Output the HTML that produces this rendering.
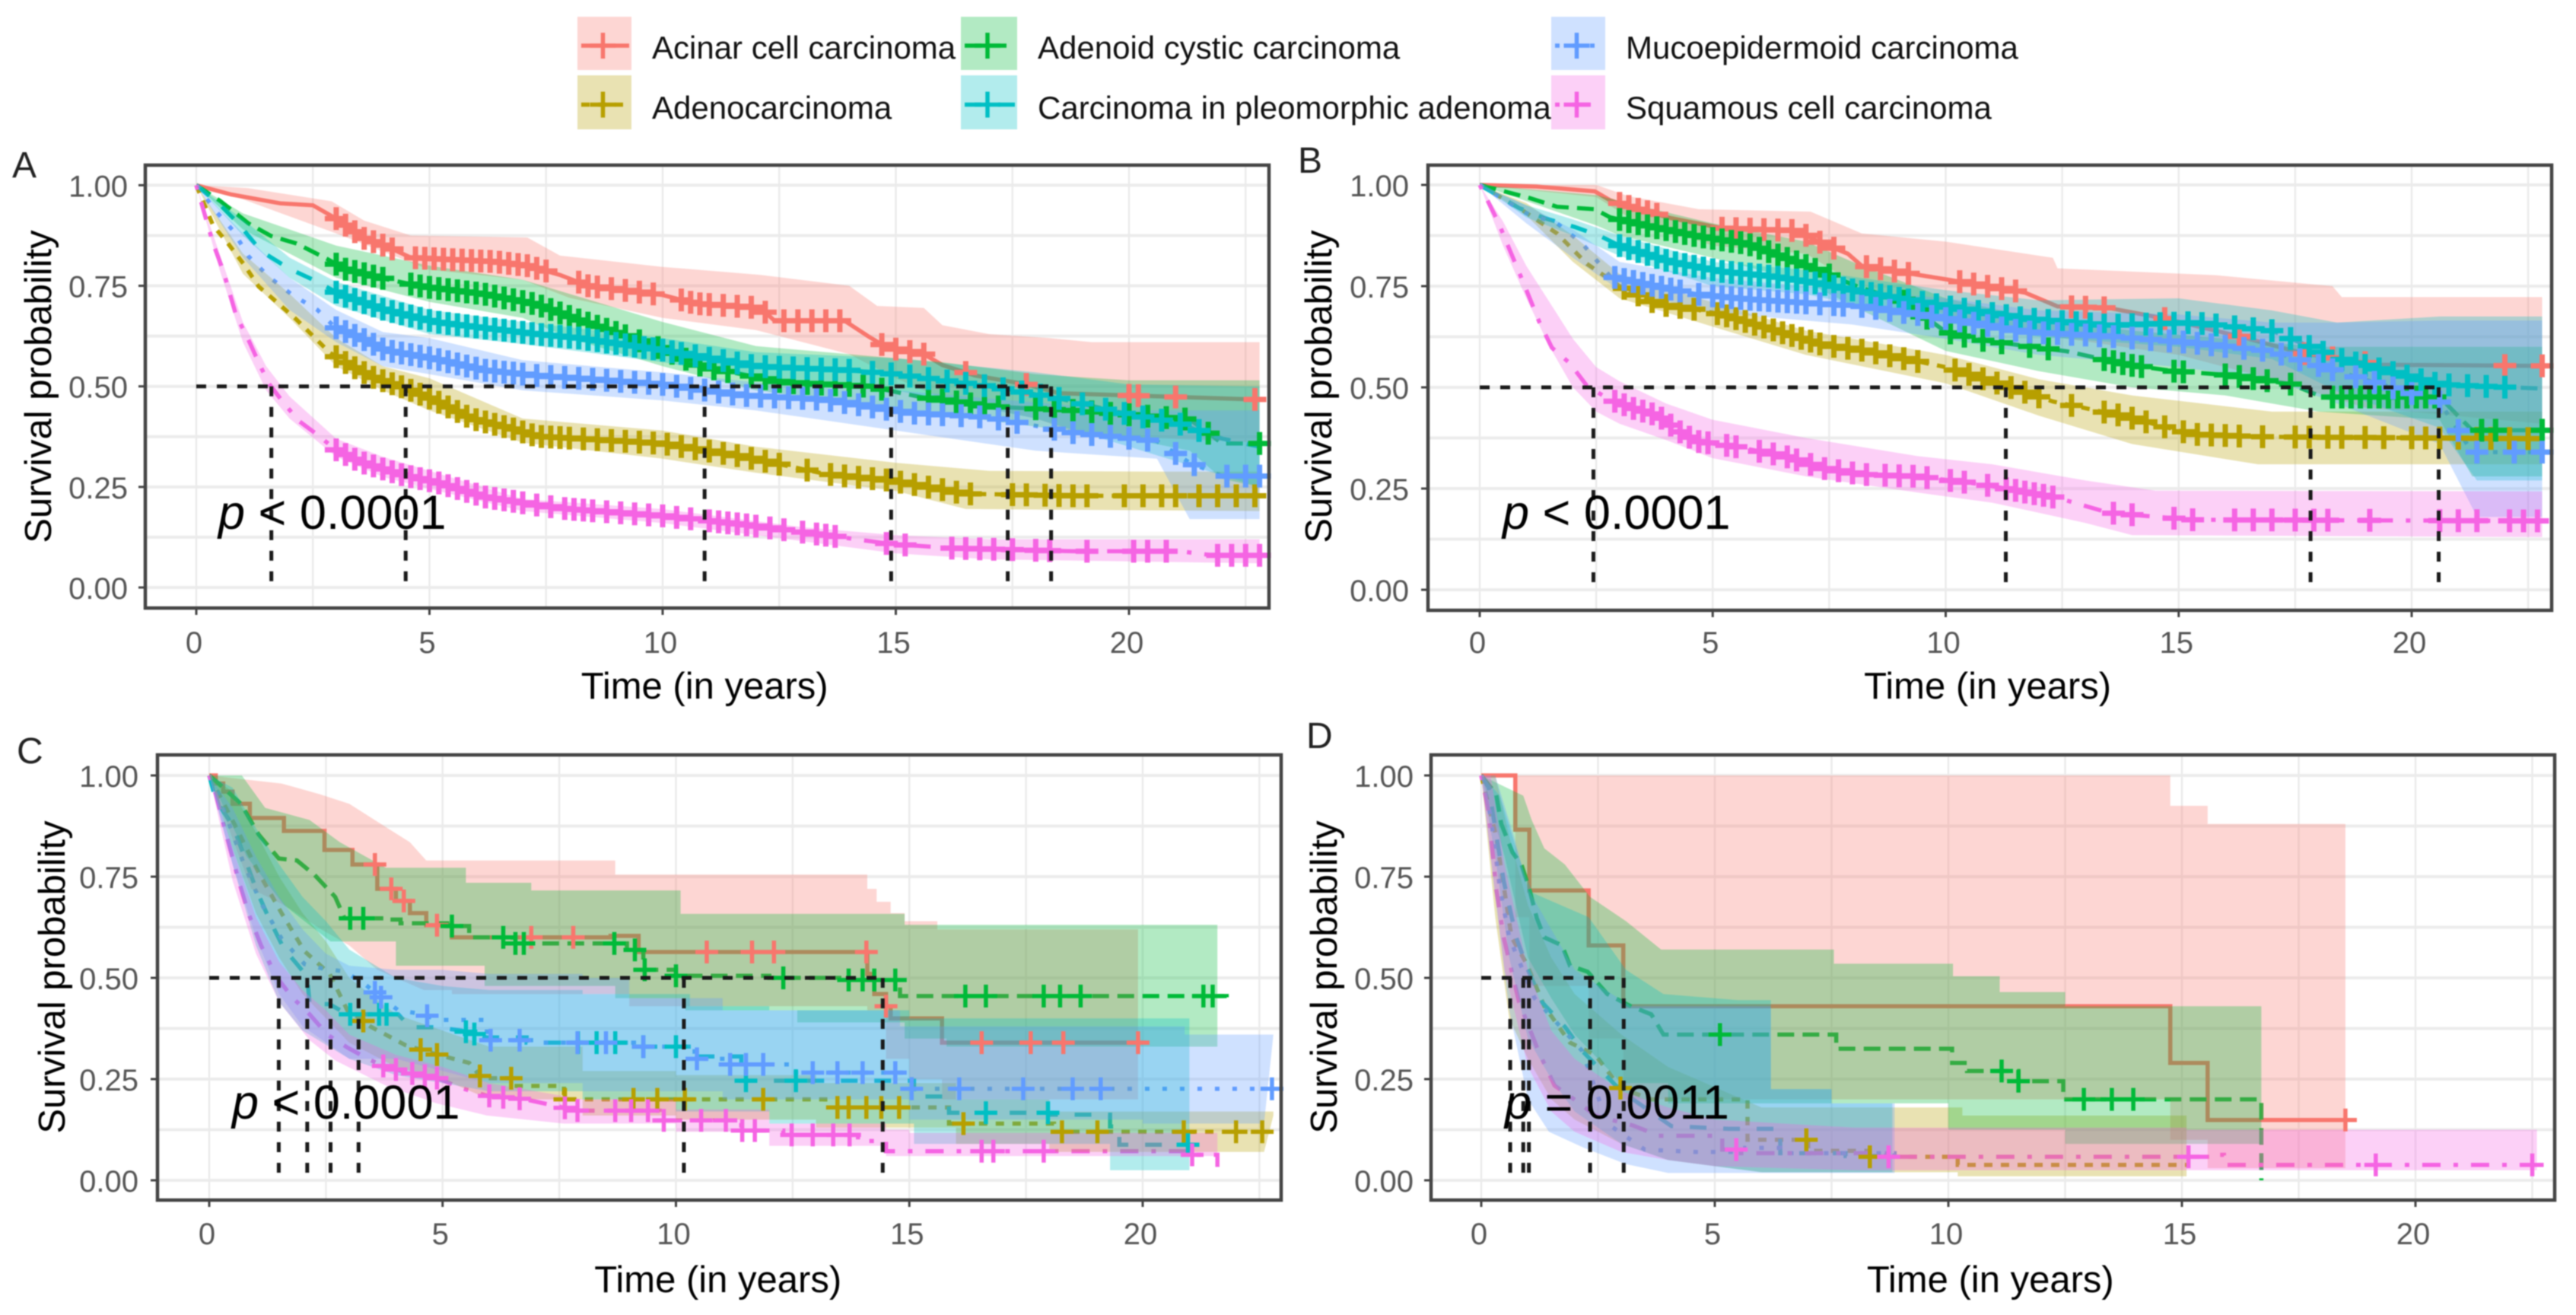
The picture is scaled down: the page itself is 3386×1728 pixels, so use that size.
<!DOCTYPE html>
<html lang="en">
<head>
<meta charset="utf-8">
<title>Kaplan-Meier survival curves by histology</title>
<style>
html,body{margin:0;padding:0;background:#fff;width:3386px;height:1728px;overflow:hidden}
svg{display:block;filter:blur(0.9px)}
text{font-family:"Liberation Sans",sans-serif}
</style>
</head>
<body>
<svg id="chart" xmlns="http://www.w3.org/2000/svg" width="3386" height="1728" viewBox="0 0 3386 1728">
<rect width="3386" height="1728" fill="#fff"/>
</svg>
<script>
const seriesNames=["Acinar cell carcinoma","Adenocarcinoma","Adenoid cystic carcinoma","Carcinoma in pleomorphic adenoma","Mucoepidermoid carcinoma","Squamous cell carcinoma"];
const xTicks=[0,5,10,15,20];
const xGrid=[0,2.5,5,7.5,10,12.5,15,17.5,20,22.5];
const yTicks=[0,0.25,0.5,0.75,1];
const yTickLabels=["0.00","0.25","0.50","0.75","1.00"];
const yGrid=[0,0.125,0.25,0.375,0.5,0.625,0.75,0.875,1];
const pValues=["< 0.0001","< 0.0001","< 0.0001","= 0.0011"];
const A_medians=[1.61,4.49,10.9,14.9,17.4,18.33];
const B_medians=[2.44,11.29,17.83,20.58];
const C_medians=[1.49,2.1,2.6,3.2,10.17,14.43];
const D_medians=[0.62,0.9,1.02,2.33,3.05];

/* Panel A */
const A_acinar_t=[0,0.75,1.8,2.5,3,3.6,4.1,4.6,6.4,7.1,7.8,8.4,10,10.7,12.1,12.4,13.9,14.4,14.8,15.6,16,16.7,17.8,18.5,22.8];
const A_acinar_s=[1,0.977,0.955,0.95,0.917,0.868,0.847,0.82,0.81,0.8,0.777,0.75,0.727,0.706,0.695,0.663,0.663,0.625,0.597,0.58,0.553,0.527,0.505,0.483,0.467];
const A_acinar_ut=[0,1.1,2.9,3.6,4.6,7.1,7.8,10,12.1,14,14.6,15.6,16,17,18.3,19.2,22.8];
const A_acinar_u=[1,0.993,0.96,0.912,0.875,0.87,0.825,0.797,0.777,0.75,0.7,0.695,0.652,0.63,0.62,0.61,0.61];
const A_acinar_lt=[0,1,3,5,7,8,10,12,14,15,16,18,19,22.8];
const A_acinar_l=[1,0.965,0.88,0.79,0.765,0.72,0.67,0.64,0.58,0.52,0.47,0.42,0.38,0.36];
const A_acinar_c=[3,3.2,3.4,3.6,3.8,4,4.2,4.7,4.9,5.1,5.3,5.5,5.7,5.9,6.1,6.3,6.5,6.7,6.9,7.1,7.3,7.5,8.2,8.4,8.6,8.9,9.2,9.5,9.8,10.4,10.6,10.8,11,11.3,11.6,11.9,12.2,12.6,12.9,13.2,13.5,13.8,14.7,15,15.3,15.6,16.5,17.8,20,20.2,21,22.7];
const A_adeno_t=[0,0.36,0.68,1.01,1.34,1.72,2.15,2.53,2.86,3.3,3.84,4.5,5.14,5.9,6.77,7.3,8.2,10,11.7,13.5,14.9,16.5,18.8,22.8];
const A_adeno_s=[1,0.9,0.855,0.805,0.748,0.71,0.666,0.622,0.584,0.552,0.52,0.495,0.464,0.42,0.395,0.376,0.37,0.358,0.326,0.282,0.266,0.233,0.228,0.228];
const A_adeno_ut=[0,1,2,3,4,5,7,10,12,15,17,20.6,22.8];
const A_adeno_u=[1,0.83,0.73,0.62,0.55,0.52,0.42,0.39,0.35,0.31,0.29,0.288,0.288];
const A_adeno_lt=[0,1,2,3,4,5,7,10,12,15,16.5,22.8];
const A_adeno_l=[1,0.78,0.67,0.55,0.49,0.44,0.36,0.32,0.285,0.24,0.195,0.19];
const A_adeno_c=[3,3.2,3.4,3.6,3.8,4,4.2,4.4,4.6,4.8,5,5.2,5.4,5.6,5.8,6,6.2,6.4,6.6,6.8,7,7.2,7.4,7.6,7.8,8,8.3,8.6,8.9,9.2,9.5,9.8,10.1,10.4,10.7,11,11.3,11.6,11.9,12.2,12.5,13.1,13.6,13.9,14.2,14.5,14.8,15.1,15.4,15.7,16,16.3,16.6,17.5,17.8,18.2,18.5,18.8,19.1,19.9,20.3,20.7,21,21.5,21.9,22.3,22.7];
const A_adenoid_t=[0,0.52,1.12,1.6,2.15,2.8,3.18,4.05,4.87,6.2,7.3,8.2,9.1,10,10.9,12.6,14.4,15.6,17,18.8,21.3,22,22.8];
const A_adenoid_s=[1,0.96,0.905,0.874,0.855,0.817,0.792,0.767,0.748,0.729,0.704,0.665,0.63,0.592,0.548,0.51,0.5,0.472,0.45,0.44,0.418,0.358,0.358];
const A_adenoid_ut=[0,1,2,3,5,7,8,10,12,14,16,18,20,22.8];
const A_adenoid_u=[1,0.93,0.89,0.85,0.8,0.765,0.73,0.66,0.6,0.58,0.56,0.53,0.515,0.515];
const A_adenoid_lt=[0,1,2,3,5,7,8,10,12,14,16,18,20,21.3,22,22.8];
const A_adenoid_l=[1,0.89,0.83,0.77,0.71,0.67,0.62,0.55,0.49,0.46,0.43,0.4,0.37,0.34,0.27,0.25];
const A_adenoid_c=[3,3.2,3.4,3.6,3.8,4,4.6,4.8,5,5.2,5.4,5.6,5.8,6,6.2,6.4,6.6,6.8,7,7.2,7.4,7.6,7.8,8,8.2,8.4,8.6,8.8,9,9.2,9.5,9.9,10.2,10.5,10.8,11.1,11.4,11.9,12.2,12.5,12.8,13.1,13.4,13.7,14,14.3,14.7,15.7,16,16.3,16.6,16.9,17.2,18,18.4,18.8,19.2,19.6,20,20.4,20.8,21.2,21.7,22.8];
const A_cpa_t=[0,0.52,0.9,1.39,2,2.6,3.08,4.05,5.14,6.2,7.3,8.2,10,12,14,15,17,18.5,20,21,22,22.8];
const A_cpa_s=[1,0.95,0.905,0.836,0.792,0.76,0.729,0.69,0.66,0.645,0.63,0.62,0.59,0.55,0.54,0.53,0.5,0.47,0.43,0.41,0.37,0.35];
const A_cpa_ut=[0,1,2,3,5,7,10,12,15,18,20,22.8];
const A_cpa_u=[1,0.915,0.82,0.76,0.69,0.66,0.62,0.585,0.57,0.535,0.505,0.5];
const A_cpa_lt=[0,1,2,3,5,7,10,12,15,18,20,22.8];
const A_cpa_l=[1,0.875,0.77,0.7,0.63,0.605,0.56,0.52,0.49,0.42,0.35,0.25];
const A_cpa_c=[3,3.2,3.4,3.6,3.8,4,4.2,4.4,4.6,4.8,5,5.2,5.4,5.6,5.8,6,6.2,6.4,6.6,6.8,7,7.2,7.4,7.6,7.8,8,8.2,8.4,8.6,8.8,9,9.2,9.4,9.6,9.8,10,10.2,10.4,10.7,11,11.3,11.6,11.9,12.2,12.5,12.8,13.1,13.4,13.7,14,14.5,14.9,15.3,15.7,16.1,16.5,16.9,17.3,17.7,18.1,18.5,19,19.5,19.9,20.3,20.7,21.1,21.5];
const A_muco_t=[0,0.41,0.79,1.12,1.55,2.04,2.6,2.97,3.5,4.05,5.14,6.2,7.3,8.2,10,11.7,13.5,15.3,17,18.8,20.6,21.3,22,22.8];
const A_muco_s=[1,0.937,0.887,0.823,0.773,0.729,0.69,0.647,0.622,0.59,0.568,0.54,0.527,0.52,0.505,0.478,0.467,0.434,0.423,0.385,0.364,0.31,0.277,0.277];
const A_muco_ut=[0,1,2,3,4,5,7,10,12,15,18,20,22.8];
const A_muco_u=[1,0.88,0.77,0.69,0.635,0.62,0.565,0.535,0.51,0.49,0.46,0.44,0.44];
const A_muco_lt=[0,1,2,3,4,5,7,10,12,15,18,20.6,21.3,22.8];
const A_muco_l=[1,0.82,0.69,0.61,0.55,0.53,0.49,0.465,0.44,0.39,0.34,0.32,0.17,0.17];
const A_muco_c=[3,3.2,3.4,3.6,3.8,4,4.2,4.4,4.6,4.8,5,5.2,5.4,5.6,5.8,6,6.2,6.4,6.6,6.8,7,7.3,7.6,7.9,8.2,8.5,8.8,9.1,9.4,9.7,10,10.3,10.6,10.9,11.2,11.5,11.8,12.1,12.4,12.7,13,13.3,13.6,13.9,14.2,14.5,14.8,15.1,15.4,15.7,16,16.4,16.8,17.2,17.6,18.4,18.8,19.2,19.6,20,20.4,21,21.4,22.1,22.5,22.8];
const A_squam_t=[0,0.36,0.58,0.85,1.12,1.34,1.55,1.88,2.2,2.64,2.97,3.5,4.38,5.14,6.2,7.3,8,10,11.7,13.5,14.9,16.2,18.8,21.1,21.8,22.8];
const A_squam_s=[1,0.855,0.786,0.678,0.615,0.559,0.508,0.458,0.414,0.376,0.344,0.313,0.281,0.262,0.225,0.205,0.195,0.178,0.157,0.13,0.108,0.098,0.09,0.09,0.08,0.08];
const A_squam_ut=[0,0.5,1,1.5,2,3,4,5,7,10,13,15,17,22.8];
const A_squam_u=[1,0.83,0.66,0.55,0.475,0.37,0.325,0.29,0.22,0.195,0.15,0.13,0.12,0.12];
const A_squam_lt=[0,0.5,1,1.5,2,3,4,5,7,10,13,15,17,22.8];
const A_squam_l=[1,0.79,0.61,0.49,0.42,0.325,0.275,0.245,0.19,0.16,0.115,0.085,0.07,0.06];
const A_squam_c=[3,3.2,3.4,3.6,3.8,4,4.2,4.4,4.6,4.8,5,5.2,5.4,5.6,5.8,6,6.2,6.4,6.6,6.8,7,7.3,7.6,7.9,8.1,8.3,8.5,8.8,9.1,9.4,9.7,10,10.3,10.6,11,11.2,11.4,11.6,11.8,12,12.3,12.6,13,13.3,13.5,13.7,14.8,15.2,16.2,16.5,16.8,17.1,17.5,18,18.3,19.1,20.1,20.4,20.8,21.9,22.2,22.5,22.8];

/* Panel B */
const B_acinar_t=[0,1.22,2.47,2.8,3.3,4.1,5.2,6.8,7.36,7.9,8.2,10,11.7,12.4,13.5,14.7,16.3,17.7,19.3,22.8];
const B_acinar_s=[1,0.996,0.984,0.962,0.943,0.918,0.893,0.887,0.855,0.83,0.8,0.767,0.734,0.7,0.696,0.67,0.626,0.583,0.556,0.553];
const B_acinar_ut=[0,2.5,3.2,4.7,7.1,8.2,10,12.3,12.4,15.8,18.3,18.5,22.8];
const B_acinar_u=[1,1,0.972,0.94,0.934,0.88,0.86,0.82,0.794,0.777,0.75,0.723,0.723];
const B_acinar_lt=[0,2.5,3.2,5,7,8,10,12,15,17,19,22.8];
const B_acinar_l=[1,0.97,0.92,0.85,0.83,0.76,0.68,0.63,0.58,0.52,0.45,0.41];
const B_acinar_c=[3,3.2,3.4,3.6,3.8,5.2,5.5,5.8,6.1,6.4,6.7,7,7.3,7.6,8.3,8.6,8.9,9.2,10.3,10.6,10.9,11.2,11.5,12.7,13,13.4,14.7,16.3,17.7,18.3,19,22,22.8];
const B_adeno_t=[0,0.84,1.66,2.3,3,3.83,4.65,5.2,6.3,7.36,8.2,10,11.2,12.3,13.9,15.3,16.7,22.8];
const B_adeno_s=[1,0.943,0.88,0.805,0.75,0.705,0.692,0.68,0.642,0.605,0.592,0.55,0.507,0.465,0.427,0.384,0.378,0.373];
const B_adeno_ut=[0,1,2,3,5,7,10,12,14,17,22.8];
const B_adeno_u=[1,0.955,0.875,0.78,0.71,0.64,0.58,0.52,0.48,0.44,0.44];
const B_adeno_lt=[0,1,2,3,5,7,10,12,14,16.7,22.8];
const B_adeno_l=[1,0.925,0.81,0.72,0.65,0.58,0.51,0.43,0.36,0.31,0.31];
const B_adeno_c=[3.1,3.4,3.7,4,4.3,4.6,5.1,5.3,5.5,5.7,5.9,6.1,6.3,6.5,6.7,6.9,7.1,7.3,7.6,7.9,8.2,8.5,8.8,9.1,9.4,10.2,10.5,10.8,11.1,11.4,11.7,12,12.7,13.4,13.7,14,14.3,14.7,15.1,15.4,15.7,16,16.3,16.8,17.5,17.8,18.2,18.5,19,19.4,20,20.3,20.6,21,21.4,21.7,22.1,22.5];
const B_adenoid_t=[0,1.06,1.66,2.47,2.8,3.56,4.65,5.73,6.8,8.2,9.1,10,10.8,12.6,13.9,14.9,16.1,17.4,18.1,20.6,21.3,22.8];
const B_adenoid_s=[1,0.968,0.946,0.94,0.92,0.9,0.874,0.855,0.81,0.745,0.713,0.637,0.616,0.589,0.556,0.54,0.53,0.508,0.476,0.476,0.394,0.394];
const B_adenoid_ut=[0,2.5,3,5,7,8.2,10,12,14,16,18,20.6,22.8];
const B_adenoid_u=[1,0.975,0.96,0.905,0.86,0.8,0.72,0.67,0.64,0.62,0.6,0.6,0.6];
const B_adenoid_lt=[0,2.5,3,5,7,8.2,10,12,14,16,18,20.6,21.3,22.8];
const B_adenoid_l=[1,0.9,0.875,0.82,0.76,0.69,0.59,0.54,0.5,0.48,0.44,0.42,0.28,0.28];
const B_adenoid_c=[3,3.2,3.4,3.6,3.8,4,4.2,4.4,4.6,4.8,5,5.2,5.4,5.6,5.8,6,6.2,6.4,6.6,6.8,7,7.2,7.5,8.8,9.1,9.3,9.6,10.1,10.4,10.8,11.2,11.8,12.2,13.4,13.6,13.8,14,14.2,14.9,15.1,16,16.3,16.6,16.9,17.4,18.3,18.5,18.7,18.9,19.1,19.3,19.5,19.7,19.9,20.1,20.3,20.5,21.5,21.8,22.8];
const B_cpa_t=[0,0.84,1.39,2.04,2.58,3,4.1,5.2,6.3,7.36,8.2,10,11.7,13.5,15.3,17,18.4,20.6,22.8];
const B_cpa_s=[1,0.943,0.918,0.896,0.874,0.85,0.81,0.786,0.774,0.755,0.736,0.7,0.67,0.653,0.66,0.64,0.572,0.507,0.497];
const B_cpa_ut=[0,1,2,3,5,7,10,12,15,17,18.4,20.6,22.8];
const B_cpa_u=[1,0.95,0.915,0.875,0.81,0.79,0.74,0.715,0.72,0.69,0.66,0.675,0.675];
const B_cpa_lt=[0,1,2,3,5,7,10,12,15,17,18.4,20.6,21.4,22.8];
const B_cpa_l=[1,0.92,0.875,0.825,0.75,0.73,0.66,0.625,0.6,0.57,0.49,0.4,0.27,0.27];
const B_cpa_c=[3,3.2,3.4,3.6,3.8,4,4.2,4.4,4.6,4.8,5,5.2,5.4,5.6,5.8,6,6.2,6.4,6.6,6.8,7,7.2,7.4,7.6,7.8,8,8.2,8.4,8.6,8.8,9,9.2,9.5,9.8,10.1,10.4,10.7,11,11.3,11.6,11.9,12.2,12.5,12.8,13.1,13.4,13.7,14,14.3,14.6,14.9,15.2,15.5,15.8,16.2,16.6,17,17.4,17.8,18.1,18.5,18.8,19,19.3,19.6,19.9,20.2,20.5,20.8,21.2,21.6,22];
const B_muco_t=[0,1,1.66,2.2,2.8,3.56,4.65,5.73,6.8,8.2,10,11.7,13.5,15.3,17,18.4,20.6,21.3,22.8];
const B_muco_s=[1,0.93,0.905,0.855,0.774,0.755,0.73,0.718,0.71,0.7,0.67,0.637,0.626,0.61,0.589,0.54,0.464,0.34,0.34];
const B_muco_ut=[0,1,2,3,5,8,10,12,15,17,18.4,20.6,22.8];
const B_muco_u=[1,0.95,0.89,0.81,0.77,0.74,0.72,0.69,0.68,0.66,0.66,0.665,0.665];
const B_muco_lt=[0,1,2,3,5,8,10,12,15,17,18.4,20.6,21.4,22.8];
const B_muco_l=[1,0.905,0.82,0.74,0.685,0.655,0.62,0.58,0.55,0.52,0.46,0.36,0.18,0.18];
const B_muco_c=[2.9,3.1,3.3,3.5,3.7,3.9,4.1,4.3,4.7,5,5.2,5.4,5.6,5.8,6,6.2,6.4,6.6,6.8,7,7.3,7.6,7.8,8.2,8.5,8.8,9.1,9.4,9.7,10,10.3,10.6,10.9,11.2,11.5,11.8,12.1,12.4,12.7,13,13.3,13.6,14,14.4,14.8,15.1,15.4,15.7,16,16.4,16.8,17.2,17.6,18,18.3,18.8,19.2,19.6,20,20.6,21,21.4,22.2,22.8];
const B_squam_t=[0,0.14,0.41,0.63,0.95,1.28,1.55,1.93,2.3,2.74,3.3,3.83,4.27,4.65,5.46,6.55,7.36,8.2,9.4,10.8,12.4,13.5,15.3,22.8];
const B_squam_s=[1,0.968,0.905,0.843,0.755,0.661,0.598,0.56,0.504,0.473,0.448,0.43,0.392,0.367,0.354,0.33,0.3,0.285,0.28,0.26,0.227,0.19,0.173,0.17];
const B_squam_ut=[0,0.5,1,1.5,2,2.5,3,4,5,7,9.4,11,13,14.5,22.8];
const B_squam_u=[1,0.91,0.8,0.71,0.62,0.55,0.515,0.46,0.42,0.375,0.33,0.31,0.27,0.245,0.243];
const B_squam_lt=[0,0.5,1,1.5,2,2.5,3,4,5,7,9.4,11,13,14,22.8];
const B_squam_l=[1,0.85,0.72,0.6,0.5,0.44,0.41,0.37,0.325,0.28,0.24,0.215,0.165,0.135,0.13];
const B_squam_c=[2.9,3.1,3.3,3.5,3.7,3.9,4.1,4.3,4.5,4.7,4.9,5.3,5.5,6,6.3,6.6,6.8,7.1,7.4,7.7,8,8.3,8.7,9,9.3,9.6,10.1,10.4,10.9,11.3,11.5,11.7,11.9,12.1,12.3,13.6,14,14.9,15.3,16.2,16.6,17,17.5,17.9,18.2,19.1,20.6,21,21.4,22.1,22.4,22.7];

/* Panel C */
const C_acinar_t=[0,0.14,0.3,0.5,0.87,1.6,2.47,3.07,3.6,4,4.3,4.65,5.2,8.6,9.2,14.1,14.25,14.5,14.6,15.7,20];
const C_acinar_s=[1,0.98,0.96,0.93,0.895,0.863,0.816,0.78,0.72,0.69,0.66,0.63,0.6,0.604,0.564,0.51,0.46,0.43,0.4,0.34,0.336];
const C_acinar_ut=[0,1.55,2.36,3,3.78,4.3,4.65,8.7,14.1,14.3,14.6,14.9,15.6,19.9];
const C_acinar_u=[1,0.98,0.954,0.93,0.873,0.835,0.79,0.755,0.72,0.688,0.66,0.64,0.62,0.62];
const C_acinar_lt=[0,0.9,1.6,2.4,3,3.6,4,4.6,5.2,9,14.1,14.5,15,15.7,19.9];
const C_acinar_l=[1,0.72,0.68,0.62,0.58,0.52,0.5,0.47,0.46,0.43,0.42,0.3,0.25,0.2,0.2];
const C_acinar_c=[3.55,3.9,4.17,4.88,6.9,7.8,10.66,11.63,12.1,14.08,14.5,16.55,17.6,18.3,19.9];
const C_adeno_t=[0,0.57,1.06,1.55,2.04,2.58,2.96,3.23,3.45,3.78,4.2,4.9,5.57,5.84,6.5,7.6,9,12,13.2,15.85,18.1,22.8];
const C_adeno_s=[1,0.873,0.76,0.66,0.566,0.51,0.42,0.4,0.38,0.36,0.334,0.31,0.29,0.252,0.233,0.2,0.2,0.2,0.18,0.14,0.12,0.12];
const C_adeno_ut=[0,0.5,1,1.5,2,2.5,3,4,5,6,8,10,13,16,18,22.8];
const C_adeno_u=[1,0.96,0.86,0.75,0.66,0.59,0.5,0.41,0.37,0.33,0.27,0.26,0.24,0.2,0.17,0.16];
const C_adeno_lt=[0,0.5,1,1.5,2,2.5,3,4,5,6,8,10,13,16,18,22.6];
const C_adeno_l=[1,0.82,0.66,0.55,0.46,0.4,0.34,0.28,0.25,0.2,0.16,0.15,0.13,0.09,0.07,0.07];
const C_adeno_c=[3.3,4.53,4.88,5.8,6.47,7.62,9.09,9.6,10.19,11.87,13.46,13.7,14.08,14.4,14.78,16.16,18.27,19.03,20.88,22,22.56];
const C_adenoid_t=[0,0.2,0.68,1.06,1.49,1.88,2.26,2.7,2.9,3.78,4.1,5.1,5.57,6.5,8.95,9.3,10,12,13.5,14.8,21.8];
const C_adenoid_s=[1,0.98,0.93,0.854,0.795,0.79,0.754,0.7,0.647,0.644,0.635,0.628,0.6,0.585,0.569,0.52,0.505,0.5,0.495,0.455,0.452];
const C_adenoid_ut=[0,0.7,1.2,2.15,2.8,3.78,5.5,6.9,10.1,14.9,21.6];
const C_adenoid_u=[1,1,0.92,0.89,0.835,0.772,0.735,0.716,0.658,0.631,0.631];
const C_adenoid_lt=[0,0.4,0.8,1.6,2.6,4,5.9,8.7,10.2,12.6,14.9,15.8,21.6];
const C_adenoid_l=[1,0.9,0.8,0.68,0.59,0.53,0.48,0.45,0.42,0.39,0.35,0.33,0.33];
const C_adenoid_c=[3.02,3.3,5.2,6.3,6.56,6.74,8.68,9.12,9.33,10,12.3,13.7,14,14.25,14.7,16.2,16.64,17.88,18.23,18.67,21.3,21.5];
const C_cpa_t=[0,0.14,0.52,1,1.28,1.6,1.88,2.1,2.15,2.58,2.96,4.05,4.3,4.87,5.4,5.95,6.8,9.1,10.4,11.4,13.9,15.1,15.85,18,19.3,19.5,21];
const C_cpa_s=[1,0.94,0.873,0.72,0.647,0.572,0.534,0.503,0.437,0.435,0.41,0.41,0.378,0.378,0.37,0.353,0.34,0.33,0.306,0.246,0.246,0.207,0.167,0.162,0.133,0.088,0.073];
const C_cpa_ut=[0,0.5,1,1.5,2,2.5,3,4,5,6,8,10.3,12,15,19.3,21];
const C_cpa_u=[1,0.97,0.87,0.78,0.7,0.64,0.57,0.5,0.48,0.47,0.46,0.43,0.42,0.4,0.4,0.4];
const C_cpa_lt=[0,0.5,1,1.5,2,3,4,5,6,8,10,12,15.1,19.3,21];
const C_cpa_l=[1,0.78,0.58,0.44,0.37,0.3,0.26,0.24,0.22,0.2,0.17,0.14,0.09,0.025,0.025];
const C_cpa_c=[3.02,3.64,3.8,5.5,5.68,7.9,8.3,8.7,9.3,10,11.5,12.57,16.64,17.97,20.97];
const C_muco_t=[0,0.14,0.73,1.11,1.55,2.04,2.47,2.9,3.34,3.67,4.05,4.6,4.87,5.95,7.04,9.1,10.4,11.16,12.5,14.8,15.05,22.8];
const C_muco_s=[1,0.97,0.785,0.685,0.597,0.534,0.522,0.516,0.484,0.453,0.42,0.41,0.396,0.346,0.34,0.33,0.3,0.286,0.266,0.266,0.226,0.226];
const C_muco_ut=[0,0.5,1,1.5,2,2.5,3,4,5,6,8,9,11,14.8,20.9,22.8];
const C_muco_u=[1,0.92,0.8,0.7,0.62,0.56,0.53,0.52,0.52,0.51,0.5,0.45,0.42,0.38,0.36,0.36];
const C_muco_lt=[0,0.5,1,1.5,2,3,4,5,6,8,11,15,20,22.6];
const C_muco_l=[1,0.78,0.6,0.46,0.38,0.3,0.3,0.27,0.24,0.22,0.2,0.15,0.14,0.14];
const C_muco_c=[3.55,3.68,4.67,6.03,6.65,7.89,8.5,9.3,10.45,11.16,11.5,11.87,12.93,13.46,14,14.7,15.05,16.07,17.44,18.5,19.1,22.77];
const C_squam_t=[0,0.14,0.35,0.63,0.84,1.11,1.44,1.77,2.15,2.53,2.96,3.45,3.78,4.3,4.87,5.4,5.95,6.77,7.9,9.65,11.4,12.3,13.9,14.5,21,21.6];
const C_squam_s=[1,0.954,0.86,0.74,0.66,0.58,0.503,0.453,0.41,0.36,0.328,0.297,0.28,0.265,0.253,0.228,0.209,0.2,0.172,0.148,0.123,0.112,0.097,0.072,0.063,0.033];
const C_squam_ut=[0,0.5,1,1.5,2,2.5,3,4,5,6,8,10,12,14.5,15,21.6];
const C_squam_u=[1,0.82,0.65,0.54,0.47,0.42,0.36,0.31,0.28,0.24,0.2,0.175,0.14,0.125,0.117,0.1];
const C_squam_lt=[0,0.5,1,1.5,2.15,2.7,3.78,4.87,5.95,7.6,10,12,14.5,21.6];
const C_squam_l=[1,0.74,0.56,0.44,0.346,0.296,0.234,0.19,0.16,0.14,0.12,0.085,0.06,0.03];
const C_squam_c=[3.73,4,4.35,4.62,4.88,6,6.3,6.65,7.62,7.89,8.7,9.04,9.4,9.74,10.54,11.07,11.42,11.69,12.48,12.93,13.37,13.72,16.55,16.8,17.88,21.06];

/* Panel D */
const D_acinar_t=[0,0.73,1.03,2.3,3.04,14.75,15.55,18.54];
const D_acinar_s=[1,0.866,0.716,0.58,0.43,0.29,0.149,0.149];
const D_acinar_ut=[0,14.75,15.55,18.5];
const D_acinar_u=[1,0.925,0.88,0.88];
const D_acinar_lt=[0,0.73,1.03,2.3,3.04,14.75,15.55,18.5];
const D_acinar_l=[1,0.65,0.48,0.35,0.2,0.1,0.03,0.03];
const D_acinar_c=[18.5];
const D_adeno_t=[0,0.32,0.65,0.97,1.35,1.9,2.44,2.98,3.64,5.7,7,8.3,10.2,15.1];
const D_adeno_s=[1,0.85,0.6,0.535,0.43,0.34,0.31,0.228,0.2,0.1,0.073,0.058,0.038,0.038];
const D_adeno_ut=[0,0.3,0.6,1,1.5,2,3,4,6,10.3,15.1];
const D_adeno_u=[1,1,0.85,0.68,0.55,0.46,0.36,0.28,0.18,0.16,0.16];
const D_adeno_lt=[0,0.3,0.6,1,1.5,2,3,4,6,10.2,15.1];
const D_adeno_l=[1,0.65,0.4,0.3,0.2,0.15,0.09,0.05,0.02,0.01,0.01];
const D_adeno_c=[2.98,6.96,8.32];
const D_adenoid_t=[0,0.32,0.43,0.67,0.86,1.03,1.19,1.35,1.73,1.9,2.28,2.7,3.2,3.64,3.9,7.6,10.08,10.4,11.5,12.46,16.7];
const D_adenoid_s=[1,0.954,0.88,0.81,0.78,0.72,0.647,0.6,0.58,0.53,0.515,0.46,0.43,0.41,0.36,0.325,0.29,0.27,0.245,0.2,0];
const D_adenoid_ut=[0,0.9,1.08,1.35,1.79,2.33,3.1,3.85,7.55,10.1,11.1,12.5,16.7];
const D_adenoid_u=[1,0.95,0.89,0.82,0.78,0.7,0.64,0.57,0.535,0.504,0.465,0.43,0.43];
const D_adenoid_lt=[0,0.5,1,1.5,2,2.5,3,4,6.2,8.8,10,12.5,16.7];
const D_adenoid_l=[1,0.8,0.55,0.45,0.36,0.3,0.24,0.19,0.19,0.19,0.125,0.09,0.09];
const D_adenoid_c=[5.11,11.14,11.5,12.9,13.5,13.96];
const D_cpa_t=[0,0.16,0.48,0.75,1,1.3,1.8,2.16,3,4.07,5.3,6.4,7.8,8.8];
const D_cpa_s=[1,0.97,0.74,0.6,0.52,0.44,0.378,0.32,0.22,0.134,0.127,0.067,0.06,0.06];
const D_cpa_ut=[0,0.4,0.8,1.1,2.3,3.1,3.9,5.5,6.2,7.5,8.8];
const D_cpa_u=[1,0.95,0.8,0.71,0.65,0.52,0.46,0.445,0.225,0.19,0.19];
const D_cpa_lt=[0,0.3,0.6,1,1.5,2,3,4,6,8.8];
const D_cpa_l=[1,0.8,0.55,0.35,0.25,0.17,0.09,0.05,0.02,0.02];
const D_cpa_c=[];
const D_muco_t=[0,0.2,0.4,0.6,1.14,2.16,2.7,3.5,4.6,5.65,6.4,8.85];
const D_muco_s=[1,0.9,0.72,0.6,0.45,0.32,0.14,0.076,0.07,0.08,0.067,0.053];
const D_muco_ut=[0,0.3,0.7,1,1.5,2,3.2,6.2,7.5,8.85];
const D_muco_u=[1,1,0.85,0.72,0.62,0.52,0.43,0.225,0.19,0.19];
const D_muco_lt=[0,0.3,0.6,1,1.45,2.2,3.1,4,8.85];
const D_muco_l=[1,0.7,0.42,0.2,0.12,0.08,0.04,0.018,0.018];
const D_muco_c=[];
const D_squam_t=[0,0.16,0.32,0.48,0.81,1.24,1.57,2.11,2.44,3.26,3.8,5.16,5.5,8.67,15.1,15.7,15.9,22.7];
const D_squam_s=[1,0.91,0.72,0.6,0.44,0.315,0.234,0.19,0.16,0.135,0.11,0.076,0.067,0.058,0.058,0.063,0.038,0.036];
const D_squam_ut=[0,0.2,0.5,1,1.5,2,3,4,5,8,15.1,22.6];
const D_squam_u=[1,1,0.78,0.52,0.37,0.3,0.22,0.18,0.15,0.13,0.125,0.125];
const D_squam_lt=[0,0.2,0.5,1,1.5,2,3,4,5,8,22.6];
const D_squam_l=[1,0.8,0.52,0.28,0.17,0.12,0.07,0.05,0.035,0.025,0.018];
const D_squam_c=[5.46,8.72,15.14,19.15,22.5];

const seriesColors=["#F8766D","#B79F00","#00BA38","#00BFC4","#619CFF","#F564E3"];
const seriesDashes=["","11 11","22 11","22 22","6 17","6 17 24 17"];
const seriesSlugs=["acinar","adeno","adenoid","cpa","muco","squamous"];
const always=Infinity;

const panels=[
 {id:"A",curveSmooth:[always,always,always,always,always,always],bandSmooth:[always,always,always,always,always,always],markWidth:7,fx0:191,fx1:1668,fy0:217,fy1:799,x0:258,xs:61.3,y1:243.4,y0:772,medians:A_medians,
  letterX:16,letterY:233,titleX:67,titleY:508,xTitleY:918,tickR:168,tickB:858,pX:287,pY:695,
  data:[[A_acinar_t,A_acinar_s,A_acinar_ut,A_acinar_u,A_acinar_lt,A_acinar_l,A_acinar_c],[A_adeno_t,A_adeno_s,A_adeno_ut,A_adeno_u,A_adeno_lt,A_adeno_l,A_adeno_c],[A_adenoid_t,A_adenoid_s,A_adenoid_ut,A_adenoid_u,A_adenoid_lt,A_adenoid_l,A_adenoid_c],[A_cpa_t,A_cpa_s,A_cpa_ut,A_cpa_u,A_cpa_lt,A_cpa_l,A_cpa_c],[A_muco_t,A_muco_s,A_muco_ut,A_muco_u,A_muco_lt,A_muco_l,A_muco_c],[A_squam_t,A_squam_s,A_squam_ut,A_squam_u,A_squam_lt,A_squam_l,A_squam_c]]},
 {id:"B",curveSmooth:[always,always,always,always,always,always],bandSmooth:[always,always,always,always,always,always],markWidth:7,fx0:1877,fx1:3354,fy0:217,fy1:802,x0:1945,xs:61.25,y1:243,y0:775,medians:B_medians,
  letterX:1706,letterY:227,titleX:1750,titleY:508,xTitleY:918,tickR:1852,tickB:858,pX:1975,pY:695,
  data:[[B_acinar_t,B_acinar_s,B_acinar_ut,B_acinar_u,B_acinar_lt,B_acinar_l,B_acinar_c],[B_adeno_t,B_adeno_s,B_adeno_ut,B_adeno_u,B_adeno_lt,B_adeno_l,B_adeno_c],[B_adenoid_t,B_adenoid_s,B_adenoid_ut,B_adenoid_u,B_adenoid_lt,B_adenoid_l,B_adenoid_c],[B_cpa_t,B_cpa_s,B_cpa_ut,B_cpa_u,B_cpa_lt,B_cpa_l,B_cpa_c],[B_muco_t,B_muco_s,B_muco_ut,B_muco_u,B_muco_lt,B_muco_l,B_muco_c],[B_squam_t,B_squam_s,B_squam_ut,B_squam_u,B_squam_lt,B_squam_l,B_squam_c]]},
 {id:"C",curveSmooth:[0,6,2.9,6,5,8],bandSmooth:[4.7,6,3.8,6,6,8],markWidth:5.5,fx0:207,fx1:1684,fy0:992,fy1:1577,x0:275,xs:61.35,y1:1019,y0:1551,medians:C_medians,
  letterX:22,letterY:1003,titleX:85,titleY:1284,xTitleY:1698,tickR:182,tickB:1635,pX:305,pY:1470,
  data:[[C_acinar_t,C_acinar_s,C_acinar_ut,C_acinar_u,C_acinar_lt,C_acinar_l,C_acinar_c],[C_adeno_t,C_adeno_s,C_adeno_ut,C_adeno_u,C_adeno_lt,C_adeno_l,C_adeno_c],[C_adenoid_t,C_adenoid_s,C_adenoid_ut,C_adenoid_u,C_adenoid_lt,C_adenoid_l,C_adenoid_c],[C_cpa_t,C_cpa_s,C_cpa_ut,C_cpa_u,C_cpa_lt,C_cpa_l,C_cpa_c],[C_muco_t,C_muco_s,C_muco_ut,C_muco_u,C_muco_lt,C_muco_l,C_muco_c],[C_squam_t,C_squam_s,C_squam_ut,C_squam_u,C_squam_lt,C_squam_l,C_squam_c]]},
 {id:"D",curveSmooth:[0,3.64,3.9,5.3,5,5],bandSmooth:[0,6,3.85,6,6,8],markWidth:5.5,fx0:1881,fx1:3358,fy0:992,fy1:1577,x0:1947,xs:61.4,y1:1019,y0:1551,medians:D_medians,
  letterX:1717,letterY:983,titleX:1757,titleY:1284,xTitleY:1698,tickR:1858,tickB:1635,pX:1978,pY:1470,
  data:[[D_acinar_t,D_acinar_s,D_acinar_ut,D_acinar_u,D_acinar_lt,D_acinar_l,D_acinar_c],[D_adeno_t,D_adeno_s,D_adeno_ut,D_adeno_u,D_adeno_lt,D_adeno_l,D_adeno_c],[D_adenoid_t,D_adenoid_s,D_adenoid_ut,D_adenoid_u,D_adenoid_lt,D_adenoid_l,D_adenoid_c],[D_cpa_t,D_cpa_s,D_cpa_ut,D_cpa_u,D_cpa_lt,D_cpa_l,D_cpa_c],[D_muco_t,D_muco_s,D_muco_ut,D_muco_u,D_muco_lt,D_muco_l,D_muco_c],[D_squam_t,D_squam_s,D_squam_ut,D_squam_u,D_squam_lt,D_squam_l,D_squam_c]]}
];

const NS="http://www.w3.org/2000/svg";
const root=document.getElementById("chart");
function make(parent,tag,attrs,text){
  const el=document.createElementNS(NS,tag);
  for(const k in attrs)el.setAttribute(k,attrs[k]);
  if(text!==undefined)el.textContent=text;
  parent.appendChild(el);
  return el;
}
/* Knots up to smoothUntil are joined directly (dense tiny steps); later knots are drawn as stair steps. */
function curvePoints(ts,vs,smoothUntil,sx,sy){
  const pts=[];
  for(let i=0;i<ts.length;i++){
    if(i>0&&ts[i]>smoothUntil)pts.push([sx(ts[i]),sy(vs[i-1])]);
    pts.push([sx(ts[i]),sy(vs[i])]);
  }
  return pts;
}
function toD(pts){return pts.map((p,i)=>(i?"L":"M")+p[0].toFixed(1)+" "+p[1].toFixed(1)).join("");}
function valueAt(ts,vs,c,smoothUntil){
  if(c<=ts[0])return vs[0];
  for(let i=1;i<ts.length;i++){
    if(c<ts[i]){
      if(ts[i]>smoothUntil)return vs[i-1];
      return vs[i-1]+(vs[i]-vs[i-1])*(c-ts[i-1])/(ts[i]-ts[i-1]);
    }
  }
  return vs[vs.length-1];
}

panels.forEach(function(p,pi){
  const sx=t=>p.x0+t*p.xs;
  const sy=v=>p.y0+(p.y1-p.y0)*v;
  const g=make(root,"g",{});
  
  

  const grid=make(g,"g",{});
  
  
  yGrid.forEach(function(v){
    const l=make(grid,"line",{x1:p.fx0,x2:p.fx1,y1:sy(v),y2:sy(v),stroke:"#ececec","stroke-width":4});
    
    
  });
  xGrid.forEach(function(t){
    const l=make(grid,"line",{x1:sx(t),x2:sx(t),y1:p.fy0,y2:p.fy1,stroke:"#ebebeb","stroke-width":2.5});
    
    
  });

  p.data.forEach(function(d,si){
    const line=make(g,"path",{d:toD(curvePoints(d[0],d[1],p.curveSmooth[si],sx,sy)),fill:"none",stroke:seriesColors[si],"stroke-width":5.5,"stroke-dasharray":seriesDashes[si]});
    
    
  });
  p.data.forEach(function(d,si){
    const up=curvePoints(d[2],d[3],p.bandSmooth[si],sx,sy);
    const lo=curvePoints(d[4],d[5],p.bandSmooth[si],sx,sy).reverse();
    const rib=make(g,"path",{d:toD(up.concat(lo))+"Z",fill:seriesColors[si],"fill-opacity":0.3,stroke:"none"});
    
    
  });
  p.data.forEach(function(d,si){
    let path="";
    d[6].forEach(function(c){
      const x=sx(c),y=sy(valueAt(d[0],d[1],c,p.curveSmooth[si]));
      path+="M"+(x-15).toFixed(1)+" "+y.toFixed(1)+"H"+(x+15).toFixed(1)+"M"+x.toFixed(1)+" "+(y-15).toFixed(1)+"V"+(y+15).toFixed(1);
    });
    if(path){
      const cm=make(g,"path",{d:path,fill:"none",stroke:seriesColors[si],"stroke-width":p.markWidth});
      
      
    }
  });

  const maxMedian=Math.max.apply(null,p.medians);
  const h=make(g,"line",{x1:sx(0),x2:sx(maxMedian),y1:sy(0.5),y2:sy(0.5),stroke:"#1a1a1a","stroke-width":5,"stroke-dasharray":"13 14"});
  
  
  p.medians.forEach(function(m){
    const v=make(g,"line",{x1:sx(m),x2:sx(m),y1:sy(0.5),y2:sy(0),stroke:"#1a1a1a","stroke-width":5,"stroke-dasharray":"13 14"});
    
    
  });

  const pt=make(g,"text",{x:p.pX,y:p.pY,"font-size":63,fill:"#000"});
  
  
  make(pt,"tspan",{"font-style":"italic"},"p");
  make(pt,"tspan",{},"\u00a0"+pValues[pi]);

  const frame=make(g,"rect",{x:p.fx0,y:p.fy0,width:p.fx1-p.fx0,height:p.fy1-p.fy0,fill:"none",stroke:"#444","stroke-width":4.5});
  
  

  xTicks.forEach(function(t){
    const tk=make(g,"line",{x1:sx(t),x2:sx(t),y1:p.fy1,y2:p.fy1+9,stroke:"#444","stroke-width":3});
    
    
    const lb=make(g,"text",{x:sx(t)-3,y:p.tickB,"font-size":40,fill:"#555","text-anchor":"middle"},String(t));
    
    
  });
  yTicks.forEach(function(v,i){
    const tk=make(g,"line",{x1:p.fx0-9,x2:p.fx0,y1:sy(v),y2:sy(v),stroke:"#444","stroke-width":3});
    
    
    const lb=make(g,"text",{x:p.tickR,y:sy(v)+15,"font-size":40,fill:"#555","text-anchor":"end"},yTickLabels[i]);
    
    
  });

  const xt=make(g,"text",{x:sx(10.9),y:p.xTitleY,"font-size":49,fill:"#000","text-anchor":"middle"},"Time (in years)");
  
  
  const yt=make(g,"text",{x:p.titleX,y:p.titleY,"font-size":49,fill:"#000","text-anchor":"middle",transform:"rotate(-90 "+p.titleX+" "+p.titleY+")"},"Survival probability");
  
  
  const ll=make(g,"text",{x:p.letterX,y:p.letterY,"font-size":48,fill:"#222"},p.id);
  
  
});

/* Legend */
const legendCols=[[759,857],[1263,1364],[2039,2137]];
const legendRows=[[22,92,77],[99,170,156]];
const legendOrder=[[0,0],[1,0],[0,1],[1,1],[0,2],[1,2]];
const legend=make(root,"g",{});


seriesNames.forEach(function(name,i){
  const pos=legendOrder[i];
  const row=legendRows[pos[0]],col=legendCols[pos[1]];
  const w=col[0]===1263?74:71;
  const e=make(legend,"g",{});
  
  
  make(e,"rect",{x:col[0],y:row[0],width:w,height:row[1]-row[0],fill:seriesColors[i],"fill-opacity":0.3});
  const cy=(row[0]+row[1])/2+3,cx=col[0]+w/2-2;
  make(e,"line",{x1:col[0]+5,x2:col[0]+w-3,y1:cy,y2:cy,stroke:seriesColors[i],"stroke-width":5.5,"stroke-dasharray":seriesDashes[i]});
  make(e,"path",{d:"M"+(cx-17)+" "+cy+"H"+(cx+17)+"M"+cx+" "+(cy-17)+"V"+(cy+17),stroke:seriesColors[i],"stroke-width":5.5,fill:"none"});
  make(e,"text",{x:col[1],y:row[2],"font-size":42,fill:"#111"},name);
});
</script>
</body>
</html>
